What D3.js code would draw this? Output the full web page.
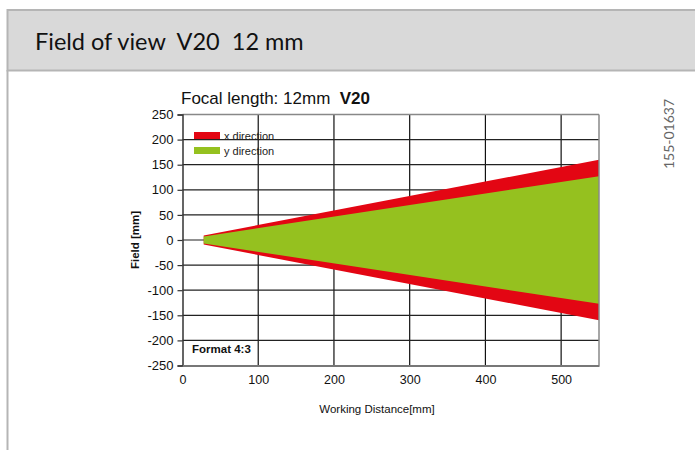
<!DOCTYPE html>
<html>
<head>
<meta charset="utf-8">
<script src="https://cdn.jsdelivr.net/npm/d3@7"></script>
<style>
  html, body { margin: 0; padding: 0; background: #fff; }
  svg { display: block; }
  text { white-space: pre; }
</style>
</head>
<body>
<svg id="chart" width="695" height="450"></svg>
<script>
// Working distance (mm) at start and end of the field cone
const distances = [28, 550];
// Half-field (mm) in each direction at those distances
const xHalfField = [9, 160];
const yHalfField = [7, 127];
const xTicks = [0, 100, 200, 300, 400, 500];
const yTicks = [250, 200, 150, 100, 50, 0, -50, -100, -150, -200, -250];
const seriesNames = ["x direction", "y direction"];
const seriesColors = ["#e30613", "#95c11f"];

const svg = d3.select("#chart");

// Page header band
svg.append("rect").attr("x", 7.5).attr("y", 10).attr("width", 690).attr("height", 60.5)
  .attr("fill", "#d9d9d9").attr("stroke", "#b5b5b5").attr("stroke-width", 2);
svg.append("line").attr("x1", 7.5).attr("x2", 7.5).attr("y1", 70).attr("y2", 450)
  .attr("stroke", "#b5b5b5").attr("stroke-width", 2);
svg.append("text").attr("x", 35).attr("y", 50)
  .attr("font-family", "Lato, 'Open Sans', sans-serif").attr("font-size", 23.5).attr("fill", "#111")
  .text("Field of view  V20  12 mm");

// Drawing code on the right
svg.append("text").attr("transform", "translate(674,134) rotate(-90)")
  .attr("text-anchor", "middle").attr("font-family", "Lato, 'Open Sans', sans-serif")
  .attr("font-size", 14).attr("fill", "#666").text("155-01637");

const plotLeft = 182.5, plotRight = 599, plotTop = 114.5, plotBottom = 365.5;
const x = d3.scaleLinear().domain([0, 550]).range([plotLeft, plotRight]);
const y = d3.scaleLinear().domain([-250, 250]).range([plotBottom, plotTop]);
const font = "'Liberation Sans', Arial, sans-serif";

const g = svg.append("g");

// Grid
g.selectAll(".vgrid").data(xTicks.filter(d => d > 0)).join("line")
  .attr("x1", d => x(d)).attr("x2", d => x(d)).attr("y1", plotTop).attr("y2", plotBottom)
  .attr("stroke", "#111").attr("stroke-width", 1.2);
g.selectAll(".hgrid").data(yTicks.filter(d => d !== 250 && d !== -250)).join("line")
  .attr("x1", plotLeft).attr("x2", plotRight).attr("y1", d => y(d)).attr("y2", d => y(d))
  .attr("stroke", "#222").attr("stroke-width", 1.2);

// Field cones: x direction behind y direction
const halves = [xHalfField, yHalfField];
halves.forEach((h, i) => {
  const pts = distances.map((d, j) => [x(d), y(h[j])])
    .concat(distances.slice().reverse().map((d, j) => [x(d), y(-h[h.length - 1 - j])]));
  g.append("path").attr("d", d3.line()(pts) + "Z")
    .attr("fill", seriesColors[i]);
});

// Frame
g.append("line").attr("x1", plotLeft).attr("x2", plotRight).attr("y1", plotTop).attr("y2", plotTop)
  .attr("stroke", "#888").attr("stroke-width", 1.5);
g.append("line").attr("x1", plotRight).attr("x2", plotRight).attr("y1", plotTop).attr("y2", plotBottom)
  .attr("stroke", "#888").attr("stroke-width", 1.5);

// Axes (plain hyphen for negatives)
const plain = d => String(d);
const yAxis = d3.axisLeft(y).tickValues(yTicks).tickFormat(plain).tickSize(5).tickPadding(4);
const yG = svg.append("g").attr("transform", `translate(${plotLeft},0)`).call(yAxis);
yG.select(".domain").attr("stroke", "#333").attr("stroke-width", 1.5);
yG.selectAll(".tick line").attr("stroke", "#333").attr("stroke-width", 1.2);
yG.selectAll("text").attr("font-family", font).attr("font-size", 13).attr("fill", "#111");

const xAxis = d3.axisBottom(x).tickValues(xTicks).tickFormat(plain).tickSize(0).tickPadding(10);
const xG = svg.append("g").attr("transform", `translate(0,${plotBottom})`).call(xAxis);
xG.select(".domain").attr("stroke", "#777").attr("stroke-width", 1.8);
xG.selectAll("text").attr("font-family", font).attr("font-size", 12.5).attr("fill", "#111");

// Titles
const title = svg.append("text").attr("x", 181).attr("y", 104)
  .attr("font-family", font).attr("font-size", 17).attr("fill", "#111");
title.append("tspan").text("Focal length: 12mm  ");
title.append("tspan").attr("font-weight", "bold").text("V20");

svg.append("text").attr("x", 377).attr("y", 413).attr("text-anchor", "middle")
  .attr("font-family", font).attr("font-size", 11.5).attr("fill", "#111")
  .text("Working Distance[mm]");
svg.append("text").attr("transform", `translate(139,${y(0)}) rotate(-90)`)
  .attr("text-anchor", "middle").attr("font-family", font).attr("font-size", 11.5)
  .attr("font-weight", "bold").attr("fill", "#111").text("Field [mm]");

svg.append("text").attr("x", 192).attr("y", 353)
  .attr("font-family", font).attr("font-size", 11.5).attr("font-weight", "bold")
  .attr("fill", "#111").text("Format 4:3");

// Legend
const legend = svg.append("g");
seriesNames.forEach((name, i) => {
  legend.append("rect").attr("x", 194).attr("y", 132 + i * 15).attr("width", 26).attr("height", 7)
    .attr("fill", seriesColors[i]);
  legend.append("text").attr("x", 224).attr("y", 139.5 + i * 15)
    .attr("font-family", font).attr("font-size", 11).attr("fill", "#222").text(name);
});
</script>
</body>
</html>
